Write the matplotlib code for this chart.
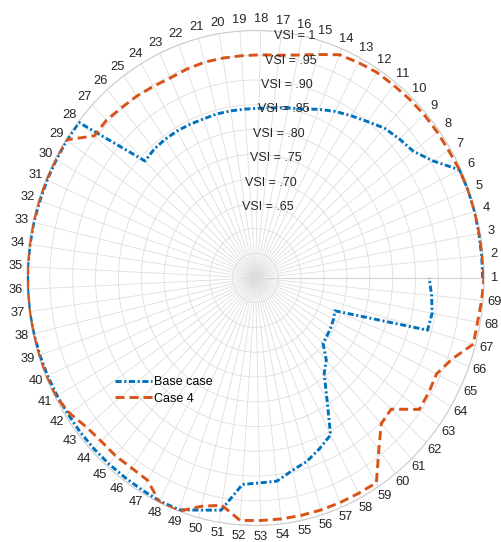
import numpy as np
import matplotlib.pyplot as plt

plt.rcParams['font.family'] = ['Liberation Sans', 'DejaVu Sans']

bus_labels = [str(i) for i in range(1, 70)]
vsi_ticks = [0.55, 0.60, 0.65, 0.70, 0.75, 0.80, 0.85, 0.90, 0.95, 1.00]
vsi_labels = ['', '', 'VSI = .65', 'VSI = .70', 'VSI = .75', 'VSI = .80',
              'VSI = .85', 'VSI = .90', 'VSI = .95', 'VSI = 1']

# VSI per bus, last point closes the circle at bus 1 (360 deg)
base_case = [0.997, 0.997, 0.997, 0.998, 0.998, 0.997, 0.955, 0.930, 0.922, 0.914,
             0.900, 0.889, 0.879, 0.868, 0.857, 0.851, 0.846, 0.843, 0.842, 0.842,
             0.842, 0.841, 0.842, 0.843, 0.843, 0.842, 0.838, 0.998, 0.998, 0.997,
             0.997, 0.997, 0.998, 0.998, 0.999, 0.999, 0.999, 0.998, 0.997, 0.996,
             0.995, 0.994, 0.994, 0.994, 0.994, 0.994, 0.995, 0.997, 0.997, 0.984,
             0.975, 0.918, 0.914, 0.913, 0.897, 0.887, 0.872, 0.857, 0.790, 0.745,
             0.727, 0.698, 0.695, 0.693, 0.690, 0.686, 0.891, 0.893, 0.887, 0.880]
case_4 = [1.000, 0.998, 0.998, 0.998, 0.998, 0.997, 0.995, 0.995, 0.995, 0.994,
          0.993, 0.993, 0.990, 0.987, 0.972, 0.960, 0.953, 0.951, 0.950, 0.950,
          0.950, 0.948, 0.945, 0.947, 0.950, 0.952, 0.956, 0.955, 1.000, 0.999,
          0.999, 0.999, 0.999, 0.999, 0.999, 0.999, 0.999, 0.999, 0.999, 0.999,
          0.998, 0.990, 0.977, 0.972, 0.972, 0.970, 0.972, 1.000, 1.000, 0.976,
          0.965, 0.991, 0.990, 0.990, 0.990, 0.990, 0.990, 0.990, 0.991, 0.940,
          0.903, 0.898, 0.946, 0.944, 0.941, 0.960, 0.995, 0.994, 0.997, 1.000]

theta = np.linspace(0, 2 * np.pi, len(base_case))
tick_theta = np.arange(len(bus_labels)) * 2 * np.pi / len(bus_labels)

fig = plt.figure(figsize=(5.01, 5.42), dpi=100)
ax = fig.add_axes([27 / 501, 16.5 / 542, 457 / 501, 495 / 542], projection='polar')
ax.set_aspect('auto')

ax.set_rlim(0.5, 1.0)
ax.set_yticks(vsi_ticks)
ax.set_yticklabels([])
ax.set_xticks(tick_theta)
ax.set_xticklabels(bus_labels, fontsize=9.3, color='#262626')
ax.tick_params(axis='x', length=0, pad=1)
ax.grid(True, color='#dedede', lw=0.6)
ax.spines['polar'].set_color('#cccccc')
ax.spines['polar'].set_linewidth(0.8)

# darker zero line
ax.plot([0, 0], [0.5, 1.0], color='#aaaaaa', lw=0.8, zorder=1)

for r, lab in zip(vsi_ticks, vsi_labels):
    if lab:
        ax.annotate(lab, xy=(np.deg2rad(80), r), xytext=(0, -1.5),
                    textcoords='offset points', ha='center', va='center',
                    fontsize=9, color='#262626', zorder=5)

ax.plot(theta, base_case, color='#0072BD', lw=2.1, ls='-.',
        dashes=(2.1, 0.9, 0.7, 0.9), label='Base case', zorder=3)
ax.plot(theta, case_4, color='#D95319', lw=2.1, ls='--',
        dashes=(3.1, 1.7), label='Case 4', zorder=4)

ax.legend(loc='upper left', bbox_to_anchor=(109 / 501, 1 - 370 / 542),
          bbox_transform=fig.transFigure, frameon=False, fontsize=9,
          handlelength=2.9, handletextpad=0.2, labelspacing=0.35, borderpad=0)

fig.savefig('out.png', dpi=100)
